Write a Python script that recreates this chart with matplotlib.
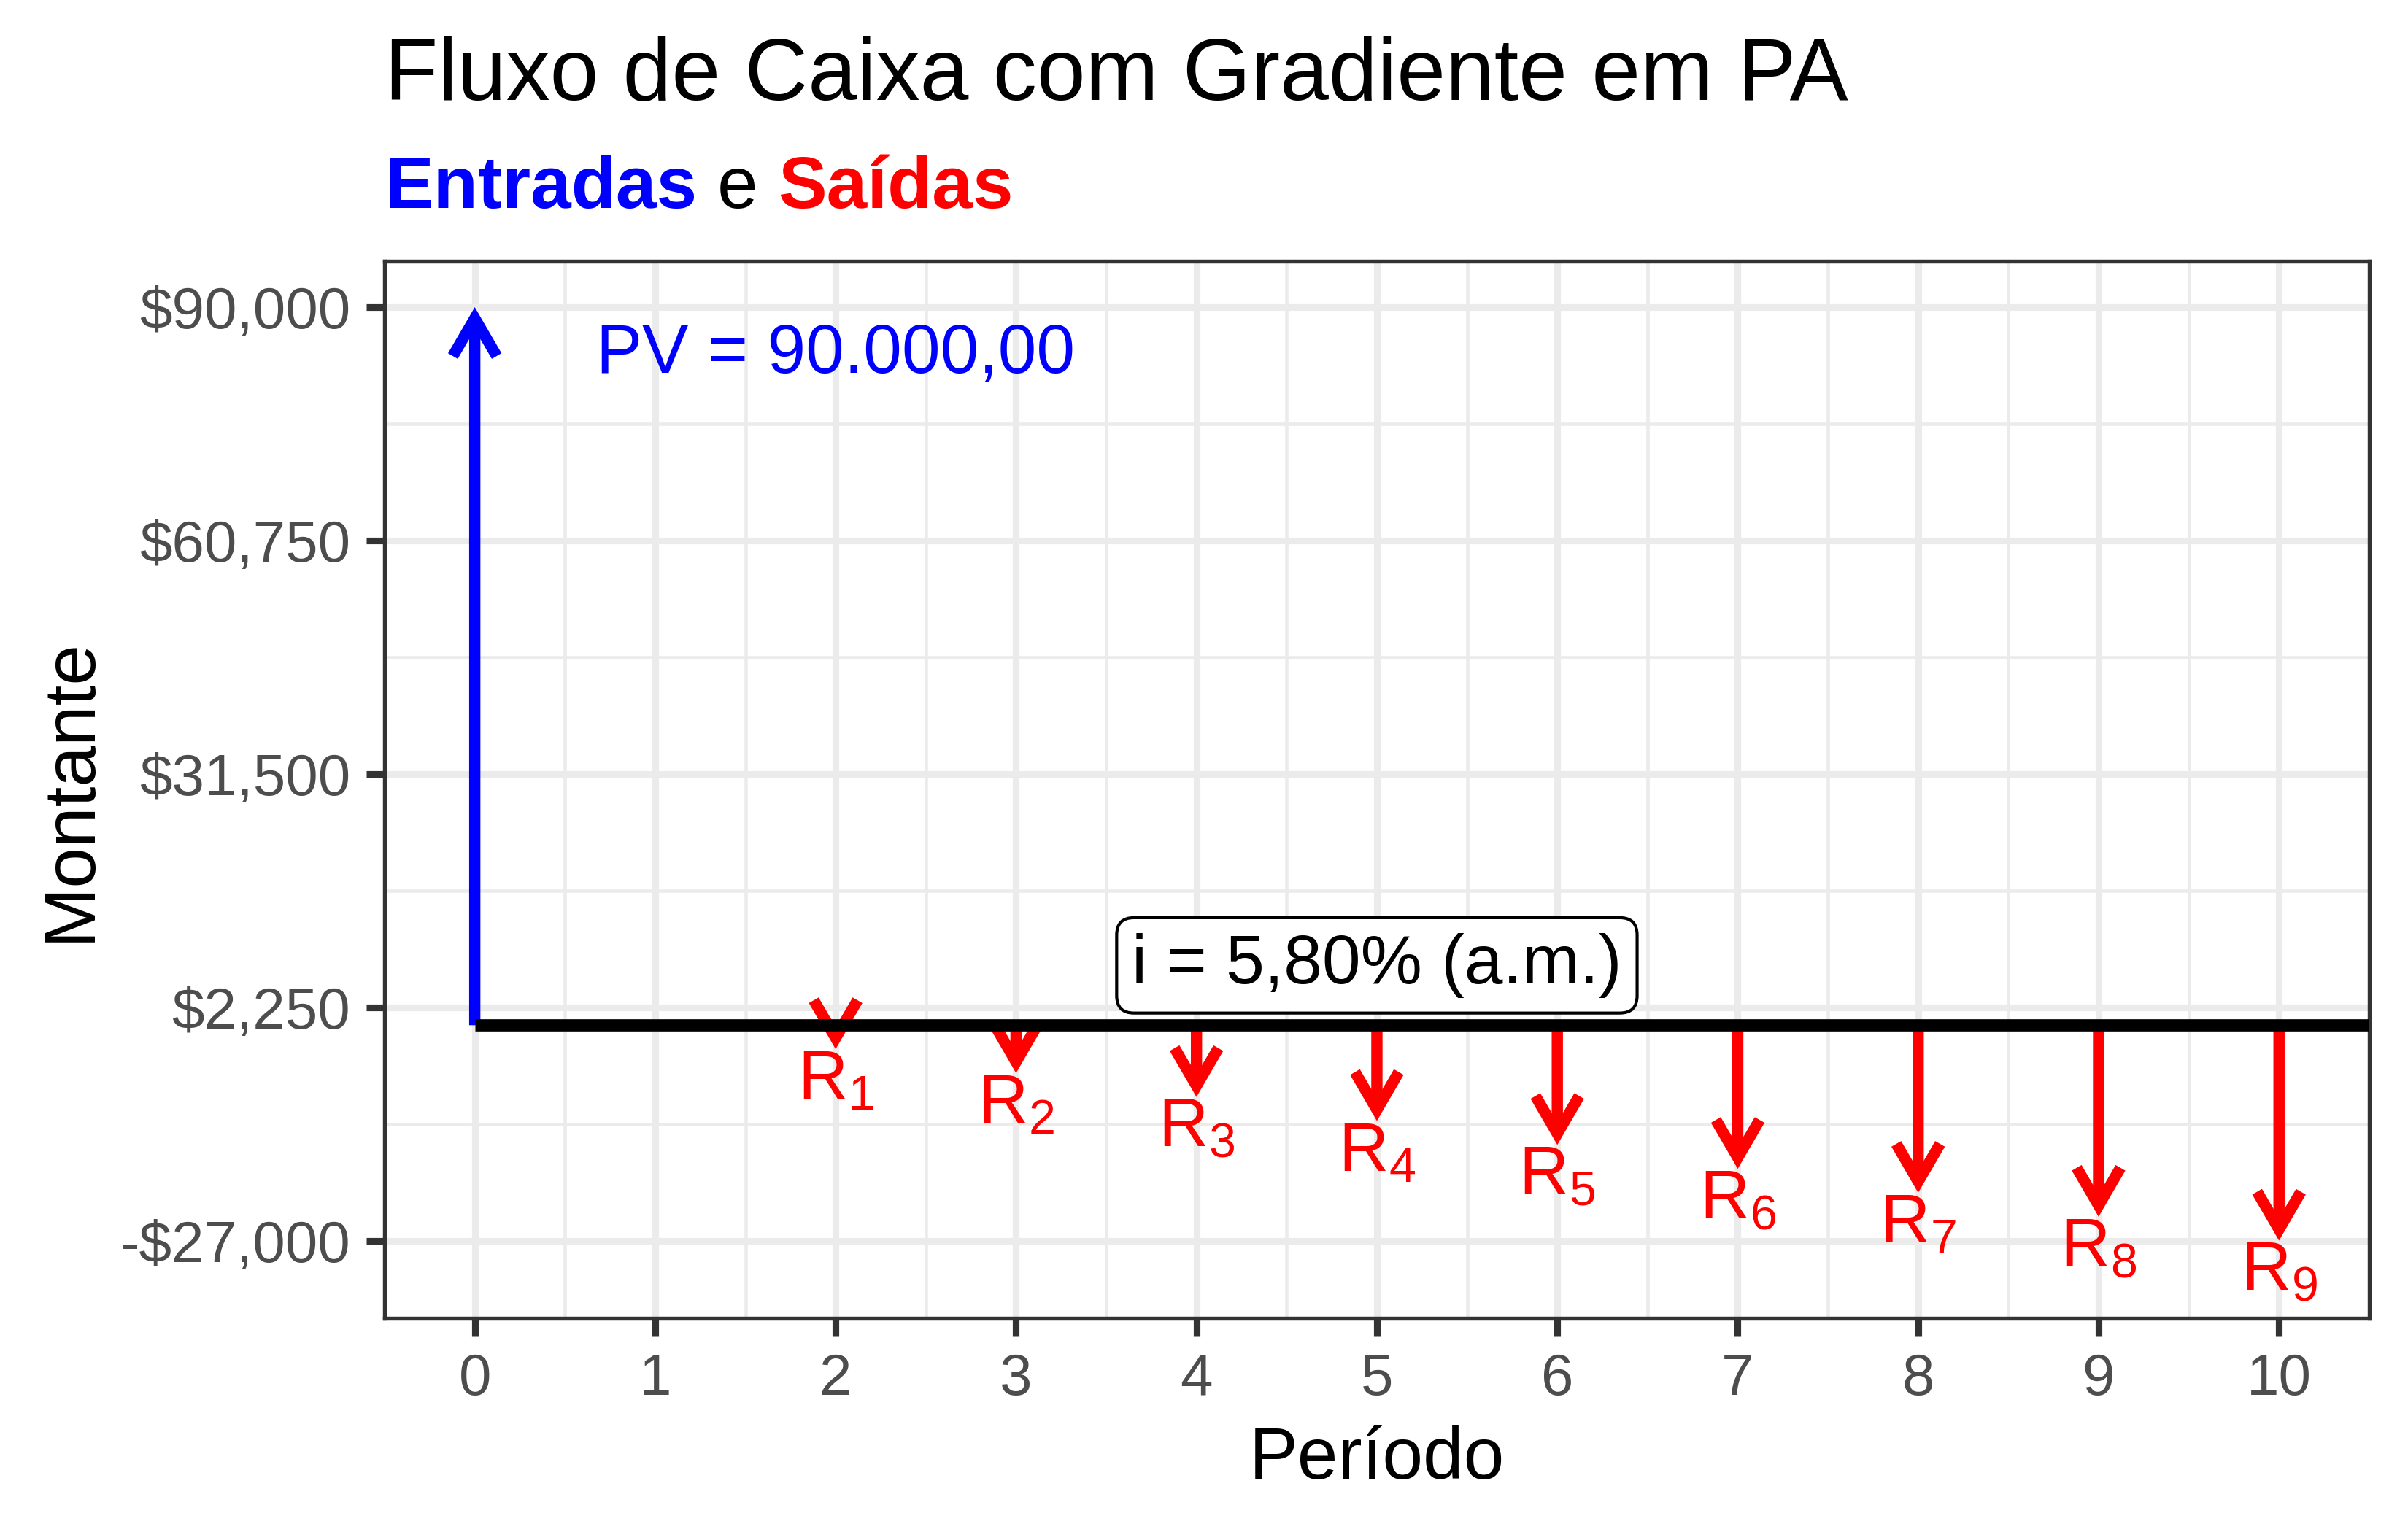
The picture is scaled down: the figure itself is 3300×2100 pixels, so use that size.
import matplotlib
matplotlib.use('Agg')
import matplotlib.pyplot as plt
from matplotlib.ticker import FixedLocator, FuncFormatter

# dados do fluxo de caixa
periodos = [0, 1, 2, 3, 4, 5, 6, 7, 8, 9, 10]
pv = 90000
pv_periodo = 0
pag_periodos = [2, 3, 4, 5, 6, 7, 8, 9, 10]
pagamentos = [3000, 6000, 9000, 12000, 15000, 18000, 21000, 24000, 27000]
pag_rotulos = ['R_{1}', 'R_{2}', 'R_{3}', 'R_{4}', 'R_{5}',
               'R_{6}', 'R_{7}', 'R_{8}', 'R_{9}']
y_quebras = [-27000, 2250, 31500, 60750, 90000]
pv_texto = 'PV = 90.000,00'
taxa_texto = 'i = 5,80% (a.m.)'

plt.rcParams['font.family'] = ['Liberation Sans', 'DejaVu Sans']

AZUL = '#0000FF'
VERM = '#FF0000'
CINZA_GRADE = '#EBEBEB'
CINZA_LINHA = '#333333'
CINZA_TXT = '#4D4D4D'
TAM_GEOM = 22.76


def moeda(v, pos=None):
    s = '${:,.0f}'.format(abs(v))
    return '-' + s if v < 0 else s


def seta(ax, x, y0, y1, cor):
    ax.annotate('', xy=(x, y1), xytext=(x, y0),
                arrowprops=dict(arrowstyle='->,head_length=0.62,head_width=0.36',
                                color=cor, lw=3.7, shrinkA=0, shrinkB=0,
                                mutation_scale=20, capstyle='butt',
                                joinstyle='miter'),
                zorder=3)


fig = plt.figure(figsize=(11, 7), dpi=300)
ax = fig.add_axes([0.1597, 0.1395, 0.9839 - 0.1597, 0.8295 - 0.1395])

x_lim = (periodos[0] - 0.5, periodos[-1] + 0.5)
ax.set_xlim(*x_lim)
ax.set_ylim(-36735, 95759)

# saidas (setas vermelhas)
for x, r, rot in zip(pag_periodos, pagamentos, pag_rotulos):
    seta(ax, x, 0, -r, VERM)
    ax.text(x, -r - 4000, r'$\mathregular{' + rot + '}$', color=VERM,
            fontsize=TAM_GEOM, ha='center', va='center', zorder=5)

# entrada (seta azul)
seta(ax, pv_periodo, 0, pv, AZUL)
ax.text(2, 84000, pv_texto, color=AZUL, fontsize=TAM_GEOM,
        ha='center', va='center', zorder=5)

# linha do tempo
ax.hlines(0, periodos[0], x_lim[1], color='black', lw=4, zorder=4)

ax.text(5, 7500, taxa_texto, fontsize=TAM_GEOM, ha='center', va='center',
        zorder=6,
        bbox=dict(boxstyle='round,pad=0.22,rounding_size=0.25',
                  fc='white', ec='black', lw=1.0))

# eixos
ax.xaxis.set_major_locator(FixedLocator(periodos))
ax.xaxis.set_minor_locator(FixedLocator([p + 0.5 for p in periodos[:-1]]))
ax.yaxis.set_major_locator(FixedLocator(y_quebras))
ax.yaxis.set_minor_locator(FixedLocator(
    [(a + b) / 2 for a, b in zip(y_quebras[:-1], y_quebras[1:])]))
ax.yaxis.set_major_formatter(FuncFormatter(moeda))

ax.set_axisbelow(True)
ax.grid(which='major', color=CINZA_GRADE, lw=2.2)
ax.grid(which='minor', color=CINZA_GRADE, lw=1.1)
for sp in ax.spines.values():
    sp.set_color(CINZA_LINHA)
    sp.set_linewidth(1.3)
ax.tick_params(which='major', length=6, width=2.2, color=CINZA_LINHA,
               labelcolor=CINZA_TXT, labelsize=19.2, pad=5.3)
ax.tick_params(which='minor', length=0)

ax.set_xlabel('Período', fontsize=24, labelpad=6)
ax.set_ylabel('Montante', fontsize=24, labelpad=5)

# titulo e subtitulo
fig.text(0.1597, 1 - 136.6 / 2100, 'Fluxo de Caixa com Gradiente em PA',
         fontsize=28.8, ha='left', va='baseline')
t1 = fig.text(0.1597, 1 - 285 / 2100, 'Entradas', fontsize=24,
              fontweight='bold', color=AZUL, ha='left', va='baseline')
t2 = ax.annotate('e', xy=(1, 0), xycoords=t1, xytext=(6.7, 0),
                 textcoords='offset points', fontsize=24, color='black',
                 ha='left', va='bottom', annotation_clip=False)
ax.annotate('Saídas', xy=(1, 0), xycoords=t2, xytext=(6.7, 0),
            textcoords='offset points', fontsize=24, fontweight='bold',
            color=VERM, ha='left', va='bottom', annotation_clip=False)

fig.savefig('out.png', dpi=300, facecolor='white')
